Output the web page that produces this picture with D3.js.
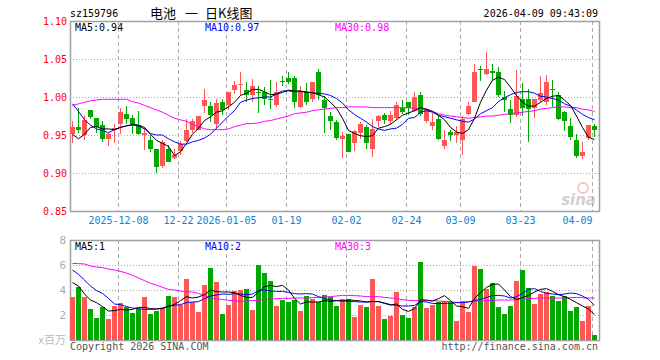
<!DOCTYPE html>
<html>
<head>
<meta charset="UTF-8">
<title>电池 一 日K线图</title>
<script src="https://cdn.jsdelivr.net/npm/d3@7"></script>
<style>
body { margin: 0; background: #fff; }
svg { display: block; }
text { font-family: 'DejaVu Sans Mono', monospace; font-size: 10px; }
</style>
</head>
<body>
<div id="chart"></div>
<script>
// daily candles (88 trading days)
const opens = [0.951,0.960,0.950,0.983,0.972,0.963,0.945,0.957,0.964,0.978,0.972,0.963,0.950,0.943,0.931,0.909,0.932,0.920,
  0.929,0.942,0.957,0.957,0.988,0.988,0.964,0.993,0.989,1.009,1.016,1.009,1.002,1.007,1.007,0.998,0.989,1.021,
  1.025,1.025,0.987,1.007,0.998,1.033,0.996,0.975,0.967,0.945,0.951,0.940,0.953,0.960,0.931,0.969,0.976,0.968,
  0.973,0.986,0.993,0.982,1.002,0.969,0.962,0.971,0.936,0.954,0.950,0.943,0.977,0.993,1.037,1.030,1.034,1.033,
  1.000,0.984,0.976,0.997,0.997,0.985,0.996,0.993,1.011,1.002,0.980,0.962,0.943,0.922,0.946,0.962];
const highs = [0.969,0.986,0.976,0.983,0.972,0.969,0.953,0.964,0.985,0.988,0.976,0.982,0.960,0.950,0.931,0.943,0.937,0.932,
  0.942,0.971,0.971,0.975,1.010,0.993,0.997,0.998,1.007,1.021,1.033,1.020,1.024,1.014,1.013,1.023,1.020,1.027,
  1.033,1.028,1.014,1.019,1.020,1.037,1.001,0.980,0.970,0.954,0.951,0.956,0.967,0.963,0.971,0.976,0.979,0.981,
  0.994,0.996,0.993,1.007,1.007,0.985,0.979,0.976,0.957,0.957,0.962,0.975,0.993,1.043,1.041,1.059,1.044,1.039,
  1.008,0.996,1.036,1.018,1.010,0.998,1.028,1.029,1.022,1.007,0.982,0.973,0.951,0.941,0.963,0.964];
const lows = [0.939,0.953,0.944,0.971,0.952,0.941,0.936,0.940,0.951,0.965,0.951,0.950,0.930,0.927,0.900,0.907,0.914,0.919,
  0.924,0.941,0.953,0.956,0.979,0.967,0.958,0.976,0.983,1.004,1.002,0.994,0.993,0.979,0.990,0.984,0.987,1.014,
  1.017,0.986,0.985,0.989,0.993,0.996,0.953,0.957,0.943,0.920,0.927,0.929,0.945,0.932,0.921,0.960,0.964,0.965,
  0.970,0.977,0.976,0.980,0.975,0.966,0.957,0.944,0.931,0.942,0.939,0.924,0.976,0.993,1.021,1.029,1.021,1.000,
  0.980,0.966,0.974,0.975,0.941,0.972,0.993,0.989,0.987,0.970,0.955,0.943,0.920,0.918,0.944,0.948];
const closes = [0.960,0.957,0.970,0.974,0.960,0.945,0.951,0.959,0.980,0.971,0.964,0.951,0.953,0.932,0.908,0.941,0.914,0.924,
  0.938,0.957,0.969,0.975,0.996,0.976,0.992,0.983,1.006,1.016,1.017,1.003,1.014,1.005,0.997,0.997,1.007,1.020,
  1.020,0.993,1.007,0.993,1.020,1.003,0.985,0.969,0.946,0.949,0.928,0.955,0.964,0.940,0.958,0.975,0.970,0.976,
  0.990,0.980,0.985,1.000,0.978,0.984,0.967,0.945,0.943,0.950,0.954,0.971,0.988,1.033,1.036,1.037,1.032,1.002,
  0.996,0.976,1.001,0.985,0.984,0.997,1.005,1.020,1.010,0.971,0.968,0.947,0.922,0.928,0.963,0.957];

// price moving averages
const ma5 = [0.951,0.945,0.951,0.960,0.961,0.958,0.958,0.957,0.960,0.962,0.964,0.963,0.960,0.951,0.943,0.939,0.935,0.923,
  0.928,0.939,0.951,0.959,0.969,0.974,0.980,0.982,0.987,0.993,1.002,1.005,1.010,1.010,1.007,1.003,1.004,1.006,
  1.009,1.008,1.008,1.006,1.006,1.003,1.000,0.993,0.985,0.972,0.956,0.952,0.949,0.948,0.949,0.959,0.961,0.964,
  0.970,0.976,0.979,0.982,0.986,0.984,0.981,0.976,0.970,0.960,0.954,0.952,0.957,0.972,0.993,1.009,1.022,1.026,
  1.023,1.013,1.002,0.993,0.988,0.988,0.993,0.998,1.001,1.002,0.996,0.989,0.975,0.960,0.947,0.944];
const ma10 = [0.991,0.981,0.970,0.963,0.958,0.956,0.953,0.957,0.960,0.962,0.963,0.962,0.958,0.952,0.950,0.950,0.945,0.941,
  0.938,0.938,0.941,0.943,0.946,0.951,0.959,0.967,0.975,0.982,0.993,0.996,0.998,0.999,1.000,1.000,1.004,1.008,
  1.008,1.007,1.007,1.007,1.005,1.005,1.004,1.002,0.998,0.992,0.983,0.977,0.972,0.967,0.961,0.958,0.956,0.958,
  0.959,0.964,0.972,0.973,0.980,0.982,0.980,0.976,0.974,0.972,0.970,0.968,0.967,0.971,0.978,0.982,0.986,0.994,
  0.999,1.003,1.006,1.007,1.007,1.005,1.001,1.000,0.998,0.996,0.991,0.988,0.983,0.977,0.973,0.970];
const ma30 = [0.989,0.991,0.993,0.995,0.996,0.997,0.997,0.997,0.997,0.997,0.994,0.992,0.989,0.986,0.983,0.980,0.976,0.972,
  0.970,0.968,0.964,0.961,0.958,0.957,0.957,0.957,0.958,0.961,0.963,0.965,0.965,0.966,0.968,0.969,0.971,0.973,
  0.975,0.978,0.979,0.980,0.982,0.983,0.984,0.985,0.986,0.986,0.987,0.987,0.987,0.987,0.986,0.986,0.986,0.986,
  0.986,0.986,0.986,0.985,0.984,0.983,0.981,0.978,0.976,0.975,0.974,0.973,0.972,0.973,0.974,0.975,0.975,0.976,
  0.977,0.978,0.979,0.980,0.981,0.982,0.984,0.985,0.986,0.987,0.987,0.986,0.986,0.984,0.983,0.981];

// volume in millions
const volumes = [3.44,4.24,3.44,2.48,1.79,2.64,1.68,2.72,2.96,2.64,2.16,2.48,3.44,2.08,2.32,2.56,3.52,3.44,
  2.80,4.88,3.04,2.24,4.40,5.76,4.64,2.08,2.80,3.92,4.00,4.08,2.40,6.00,5.36,4.72,2.72,3.20,
  3.04,3.20,2.32,3.52,3.28,3.04,3.60,3.44,2.72,3.28,3.28,1.84,2.80,2.64,4.88,2.72,1.68,1.92,
  3.84,2.00,1.76,2.64,6.24,2.56,2.80,3.04,3.12,3.04,1.52,3.12,2.24,5.92,5.68,4.08,4.56,2.64,
  2.08,2.72,4.72,5.60,4.16,2.88,3.68,3.84,3.52,3.12,3.52,2.32,2.64,1.52,2.72,0.40];
const volMa5 = [4.59,4.32,3.68,3.20,2.99,2.67,2.32,2.35,2.45,2.40,2.45,2.61,2.61,2.51,2.48,2.56,2.69,2.85,
  3.15,3.47,3.36,3.44,3.63,4.00,3.87,3.84,3.84,3.79,3.57,3.41,3.41,3.84,4.27,4.37,4.27,4.37,
  4.00,3.33,2.88,3.04,3.04,3.04,3.15,3.09,3.15,3.12,3.20,3.17,3.12,3.04,3.07,3.07,2.93,2.80,
  2.88,2.45,2.29,2.51,3.20,3.20,3.12,3.31,3.55,3.15,2.72,2.67,2.53,3.33,3.79,4.21,4.45,4.48,
  4.00,3.47,3.25,3.39,3.57,3.84,4.05,4.11,3.89,3.63,3.47,3.25,2.99,2.72,2.48,2.03];
const volMa10 = [5.60,5.25,4.80,4.32,3.95,3.73,3.33,2.88,2.83,2.67,2.56,2.51,2.45,2.45,2.48,2.51,2.72,2.77,
  2.83,2.99,3.04,3.07,3.31,3.52,3.60,3.68,3.65,3.71,3.68,3.63,3.68,3.97,4.00,3.92,3.89,3.89,
  3.81,3.71,3.68,3.71,3.68,3.47,3.31,3.20,3.15,3.15,3.09,3.07,3.04,3.04,3.09,3.07,2.96,2.83,
  2.77,2.72,2.72,2.77,3.07,3.04,2.93,2.91,2.93,2.93,2.99,2.99,3.04,3.15,3.25,3.41,3.55,3.57,
  3.52,3.36,3.47,3.73,4.05,4.11,3.89,3.73,3.68,3.63,3.68,3.76,3.71,3.52,3.25,2.77];
const volMa30 = [6.13,6.11,6.08,5.92,5.84,5.79,5.68,5.60,5.49,5.36,5.17,4.96,4.75,4.53,4.40,4.21,4.05,4.00,
  3.92,3.87,3.84,3.73,3.57,3.39,3.28,3.25,3.17,3.15,3.09,3.12,3.15,3.17,3.23,3.28,3.31,3.33,
  3.33,3.36,3.36,3.36,3.39,3.41,3.44,3.47,3.52,3.57,3.57,3.55,3.52,3.47,3.47,3.47,3.41,3.36,
  3.31,3.23,3.17,3.15,3.15,3.15,3.15,3.12,3.09,3.07,3.01,3.01,3.07,3.12,3.12,3.15,3.17,3.20,
  3.20,3.20,3.23,3.28,3.31,3.33,3.36,3.36,3.36,3.36,3.36,3.39,3.41,3.39,3.36,3.36];

const tickIndex = [8, 18, 26, 36, 46, 56, 65, 75, 87];
const tickLabels = ["2025-12-08", "12-22", "2026-01-05", "01-19", "02-02", "02-24", "03-09", "03-23", "04-09"];
const priceTicks = [0.85, 0.90, 0.95, 1.00, 1.05, 1.10];
const volTicks = [2, 4, 6, 8];

const W = 660, H = 360;
const left = 70, right = 599;
const top1 = 21, bot1 = 211;   // candle panel
const top2 = 240, bot2 = 340;  // volume panel
const RED = "#ff5656", GREEN = "#00a800";

const svg = d3.select("#chart").append("svg").attr("width", W).attr("height", H);

const x = d3.scaleBand().domain(d3.range(closes.length)).range([left, 597])
  .paddingInner(1 / 6).paddingOuter(0);
const y = d3.scaleLinear().domain([0.85, 1.10]).range([bot1, top1]);
const yv = d3.scaleLinear().domain([0, 8]).range([bot2, top2]);
const cx = i => x(i) + 2.5;
const up = i => closes[i] >= opens[i];

// header
svg.append("text").attr("x", 70).attr("y", 17).text("sz159796");
const title = [["电池", 150], ["一", 185], ["日K线图", 205]];
svg.append("g").selectAll("text").data(title).join("text")
  .attr("x", d => d[1]).attr("y", 18)
  .style("font-family", "'Noto Sans CJK SC', sans-serif").style("font-size", "13px")
  .text(d => d[0]);
svg.append("text").attr("x", 598).attr("y", 17).attr("text-anchor", "end").text("2026-04-09 09:43:09");

function panel(t, b, yScale, inner) {
  const g = svg.append("g");
  // dotted horizontal lines
  g.selectAll("line.h").data(inner).join("line")
    .attr("x1", left).attr("x2", right)
    .attr("y1", d => Math.round(yScale(d)) + 0.5).attr("y2", d => Math.round(yScale(d)) + 0.5)
    .attr("stroke", "#aaa").attr("stroke-dasharray", "1,2");
  // dashed verticals at label days
  g.selectAll("line.v").data(tickIndex).join("line")
    .attr("x1", d => Math.round(x(d)) + 0.5).attr("x2", d => Math.round(x(d)) + 0.5)
    .attr("y1", t).attr("y2", b)
    .attr("stroke", "#aaa").attr("stroke-dasharray", "4,3");
  g.append("rect").attr("x", left + 0.5).attr("y", t + 0.5)
    .attr("width", right - left).attr("height", b - t)
    .attr("fill", "none").attr("stroke", "#a0a0a0").attr("stroke-width", 1.5);
  return g;
}

panel(top1, bot1, y, priceTicks.slice(1, -1));
panel(top2, bot2, yv, [2, 4, 6]);

// price axis labels
svg.append("g").selectAll("text").data(priceTicks).join("text")
  .attr("x", 67).attr("y", d => y(d) + 4).attr("text-anchor", "end")
  .attr("fill", "#f00").text(d => d.toFixed(2));

// date labels
svg.append("g").selectAll("text").data(tickIndex).join("text")
  .attr("x", d => x(d) + 0.5).attr("y", 224)
  .attr("text-anchor", (d, k) => k === tickIndex.length - 1 ? "end" : "middle")
  .attr("fill", "#0a84d2").text((d, k) => tickLabels[k]);

// volume axis labels
svg.append("g").selectAll("text").data(volTicks).join("text")
  .attr("x", 66).attr("y", d => yv(d) + 4).attr("text-anchor", "end")
  .attr("fill", "#aaa").style("font-size", "11px").text(d => d);
svg.append("text").attr("x", 66).attr("y", bot2 + 4).attr("text-anchor", "end")
  .attr("fill", "#bbb").style("font-family", "'Noto Sans CJK SC', sans-serif").style("font-size", "11px")
  .text("x百万");

// watermark
const wm = svg.append("g").attr("opacity", 0.55);
wm.append("circle").attr("cx", 583).attr("cy", 188).attr("r", 5)
  .attr("fill", "none").attr("stroke", "#f29a9a").attr("stroke-width", 2);
wm.append("text").attr("x", 596).attr("y", 205).attr("text-anchor", "end")
  .style("font-family", "'DejaVu Sans', sans-serif").style("font-size", "15px")
  .style("font-weight", "bold").style("font-style", "italic")
  .attr("fill", "#aaa").text("sina");

// clips
svg.append("clipPath").attr("id", "c1").append("rect")
  .attr("x", left).attr("y", top1).attr("width", right - left).attr("height", bot1 - top1);
svg.append("clipPath").attr("id", "c2").append("rect")
  .attr("x", left).attr("y", top2).attr("width", right - left).attr("height", bot2 - top2);

// candles
const candles = svg.append("g").attr("shape-rendering", "crispEdges");
const idx = d3.range(closes.length);
candles.selectAll("rect.w").data(idx).join("rect")
  .attr("x", i => x(i) + 2).attr("width", 1)
  .attr("y", i => y(highs[i])).attr("height", i => Math.max(1, y(lows[i]) - y(highs[i])))
  .attr("fill", i => up(i) ? RED : GREEN);
candles.selectAll("rect.b").data(idx).join("rect")
  .attr("x", i => x(i)).attr("width", x.bandwidth())
  .attr("y", i => y(Math.max(opens[i], closes[i])))
  .attr("height", i => Math.max(1, Math.abs(y(opens[i]) - y(closes[i]))))
  .attr("fill", i => up(i) ? RED : GREEN);

// volume bars
svg.append("g").attr("shape-rendering", "crispEdges")
  .selectAll("rect").data(idx).join("rect")
  .attr("x", i => x(i)).attr("width", x.bandwidth())
  .attr("y", i => yv(volumes[i])).attr("height", i => bot2 - yv(volumes[i]))
  .attr("fill", i => up(i) ? RED : GREEN);

// moving average lines
function maLine(series, scale, color, clip) {
  svg.append("path").datum(series)
    .attr("clip-path", `url(#${clip})`)
    .attr("fill", "none").attr("stroke", color).attr("stroke-width", 1)
    .attr("d", d3.line().x((d, i) => cx(i)).y(d => scale(d)));
}
maLine(ma30, y, "#ff00ff", "c1");
maLine(ma10, y, "#0000ff", "c1");
maLine(ma5, y, "#000", "c1");
maLine(volMa30, yv, "#ff00ff", "c2");
maLine(volMa10, yv, "#0000ff", "c2");
maLine(volMa5, yv, "#000", "c2");

// legends
const leg = [["MA5:0.94", "#000", 75], ["MA10:0.97", "#0000ff", 205], ["MA30:0.98", "#ff00ff", 335]];
svg.append("g").selectAll("text").data(leg).join("text")
  .attr("x", d => d[2]).attr("y", 31).attr("fill", d => d[1]).text(d => d[0]);
const legV = [["MA5:1", "#000", 75], ["MA10:2", "#0000ff", 205], ["MA30:3", "#ff00ff", 335]];
svg.append("g").selectAll("text").data(legV).join("text")
  .attr("x", d => d[2]).attr("y", 250).attr("fill", d => d[1]).text(d => d[0]);

// footer
svg.append("text").attr("x", 70).attr("y", 350).attr("fill", "#555").text("Copyright 2026 SINA.COM");
svg.append("text").attr("x", 598).attr("y", 350).attr("text-anchor", "end").attr("fill", "#555")
  .text("http://finance.sina.com.cn");
</script>
</body>
</html>
